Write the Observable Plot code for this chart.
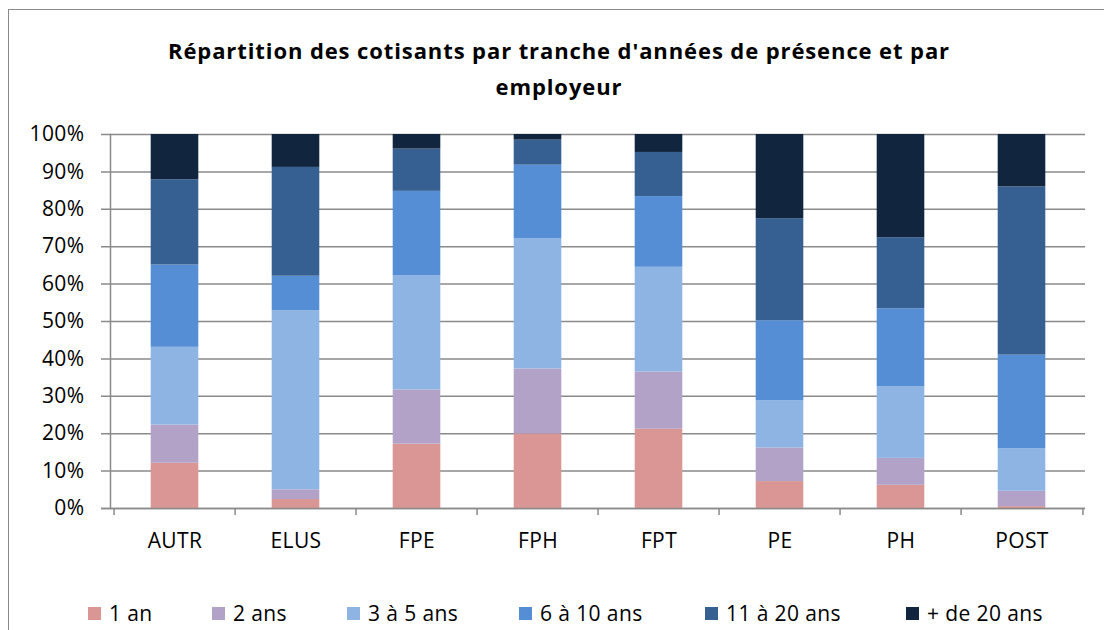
<!DOCTYPE html>
<html>
<head>
<meta charset="utf-8">
<script src="https://cdn.jsdelivr.net/npm/d3@7"></script>
<script src="https://cdn.jsdelivr.net/npm/@observablehq/plot@0.6"></script>
<style>
  html, body { margin: 0; padding: 0; background: #fff; }
  #wrap { position: relative; width: 1104px; height: 630px; overflow: hidden; font-family: "Open Sans", sans-serif; color: #000; }
  #border { position: absolute; left: 8px; top: 9px; width: 1200px; height: 700px; border: 1.5px solid #8a8a8a; box-sizing: border-box; z-index: 5; pointer-events: none; }
  #title { position: absolute; left: 0; top: 32px; width: 1118px; text-align: center; font-weight: bold; font-size: 22px; line-height: 36px; letter-spacing: 0.9px; }
  #chart { position: absolute; left: 0; top: 0; }
  .lg { position: absolute; top: 603px; height: 20px; font-size: 21px; line-height: 20px; letter-spacing: 0.4px; white-space: nowrap; }
  .lg span.sw { position: absolute; left: 0; top: 4px; width: 13px; height: 13px; }
  .lg span.tx { position: absolute; left: 21px; top: 0; }
</style>
</head>
<body>
<div id="wrap">
  <div id="border"></div>
  <div id="title">Répartition des cotisants par tranche d'années de présence et par<br>employeur</div>
  <div id="chart"></div>
  <div id="legend"></div>
</div>
<script>
const categories = ["AUTR", "ELUS", "FPE", "FPH", "FPT", "PE", "PH", "POST"];
const seriesNames = ["1 an", "2 ans", "3 à 5 ans", "6 à 10 ans", "11 à 20 ans", "+ de 20 ans"];
const seriesColors = ["#D99694", "#B3A2C7", "#8EB4E3", "#558ED5", "#376092", "#11253F"];
const un_an      = [12.1,  2.4, 17.2, 19.9, 21.2,  7.2,  6.2,  0.5];
const deux_ans   = [10.2,  2.6, 14.5, 17.4, 15.3,  9.0,  7.2,  4.1];
const trois_cinq = [20.8, 47.9, 30.6, 34.9, 28.0, 12.6, 19.2, 11.4];
const six_dix    = [22.0,  9.2, 22.5, 19.6, 18.9, 21.4, 20.8, 25.0];
const onze_vingt = [22.8, 29.1, 11.3,  6.7, 11.8, 27.3, 19.0, 45.0];
const plus_vingt = [12.1,  8.8,  3.9,  1.5,  4.8, 22.5, 27.6, 14.0];
const yTicks = [0, 10, 20, 30, 40, 50, 60, 70, 80, 90, 100];

const seriesValues = [un_an, deux_ans, trois_cinq, six_dix, onze_vingt, plus_vingt];
const data = [];
seriesNames.forEach((s, si) => {
  categories.forEach((c, ci) => data.push({cat: c, serie: s, value: seriesValues[si][ci]}));
});

const W = 1104, H = 560, mL = 110, mR = 19;
const step = (W - mL - mR) / categories.length;
const gridColor = "#8a8a8a";

const plot = Plot.plot({
  width: W,
  height: H,
  marginLeft: mL,
  marginRight: mR,
  marginTop: 134,
  marginBottom: 52,
  style: {fontFamily: "Open Sans, sans-serif", fontSize: "21px", color: "#000", background: "transparent", letterSpacing: "0.4px"},
  x: {domain: categories, padding: 0, label: null},
  y: {domain: [0, 100], label: null},
  color: {domain: seriesNames, range: seriesColors},
  marks: [
    Plot.ruleY(yTicks, {stroke: gridColor, strokeWidth: 1.5, insetLeft: -9}),
    Plot.barY(data, {x: "cat", y: "value", fill: "serie", insetLeft: 36.7, insetRight: 36.7}),
    Plot.frame({anchor: "left", stroke: gridColor, strokeWidth: 1.5}),
    Plot.ruleY([0], {stroke: gridColor, strokeWidth: 1.5, insetLeft: -9}),
    Plot.ruleX(categories, {x: d => d, y1: 0, y2: 0, dx: -step / 2, insetBottom: -7, stroke: gridColor, strokeWidth: 1.5}),
    Plot.ruleX(categories.slice(-1), {x: d => d, y1: 0, y2: 0, dx: step / 2, insetBottom: -7, stroke: gridColor, strokeWidth: 1.5}),
    Plot.axisY({ticks: yTicks, tickSize: 0, tickPadding: 26, tickFormat: d => d + "%", label: null, fill: "#000"}),
    Plot.axisX({tickSize: 0, tickPadding: 25, label: null, fill: "#000"})
  ]
});
document.getElementById("chart").appendChild(plot);

const legendX = [88, 212, 347, 519, 705, 906];
const legend = document.getElementById("legend");
seriesNames.forEach((s, i) => {
  const item = document.createElement("div");
  item.className = "lg";
  item.style.left = legendX[i] + "px";
  const sw = document.createElement("span");
  sw.className = "sw";
  sw.style.background = seriesColors[i];
  const tx = document.createElement("span");
  tx.className = "tx";
  tx.textContent = s;
  item.appendChild(sw);
  item.appendChild(tx);
  legend.appendChild(item);
});
</script>
</body>
</html>
